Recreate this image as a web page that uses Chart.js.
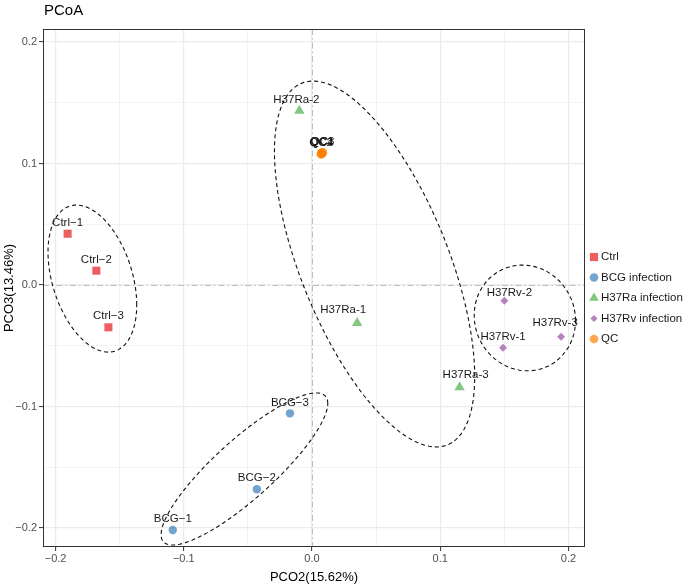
<!DOCTYPE html>
<html>
<head>
<meta charset="utf-8">
<script src="https://cdn.jsdelivr.net/npm/chart.js@4"></script>
<style>
  html, body { margin: 0; padding: 0; background: #fff; }
  #wrap { width: 685px; height: 587px; }
</style>
</head>
<body>
<div id="wrap"><canvas id="pcoa"></canvas></div>
<script>
// ----------------------------
// Data
// ----------------------------
const groups = ["Ctrl", "BCG infection", "H37Ra infection", "H37Rv infection", "QC"];

const ctrlNames = ["Ctrl−1", "Ctrl−2", "Ctrl−3"];
const ctrlX = [-0.1906, -0.1682, -0.1588];
const ctrlY = [0.0422, 0.0118, -0.0348];

const bcgNames = ["BCG−1", "BCG−2", "BCG−3"];
const bcgX = [-0.1086, -0.0430, -0.0172];
const bcgY = [-0.2016, -0.1681, -0.1056];

const raNames = ["H37Ra-1", "H37Ra-2", "H37Ra-3"];
const raX = [0.0352, -0.0099, 0.1151];
const raY = [-0.0313, 0.1435, -0.0842];

const rvNames = ["H37Rv-1", "H37Rv-2", "H37Rv-3"];
const rvX = [0.1490, 0.1500, 0.1943];
const rvY = [-0.0516, -0.0129, -0.0426];

const qcNames = ["QC1", "QC2", "QC3", "QC4"];
const qcX = [0.0078, 0.0071, 0.0083, 0.0075];
const qcY = [0.1086, 0.1078, 0.1091, 0.1081];

const xTicks = [-0.2, -0.1, 0, 0.1, 0.2];
const yTicks = [-0.2, -0.1, 0, 0.1, 0.2];
const minorTicks = [-0.15, -0.05, 0.05, 0.15];

// group ellipses: centre, half extents and correlation (data units)
const ellipseCx = [-0.1713, -0.0527, 0.0488, 0.1660];
const ellipseCy = [0.0053, -0.1514, 0.0173, -0.0271];
const ellipseSx = [0.0346, 0.0650, 0.0781, 0.0395];
const ellipseSy = [0.0605, 0.0626, 0.1506, 0.0435];
const ellipseR  = [-0.36, 0.862, -0.615, -0.05];

const FONT = "'Liberation Sans', Arial, sans-serif";

function pts(xs, ys) {
    return xs.map((x, i) => ({ x: x, y: ys[i] }));
}

function isMajor(v) {
    return Math.abs(v * 10 - Math.round(v * 10)) < 1e-6;
}

function fmt(v) {
    if (Math.abs(v) < 1e-9) return "0.0";
    return (v < 0 ? "−" : "") + Math.abs(v).toFixed(1);
}

// small label shifts, like the repelled text in the original
const labelNudge = {
    "H37Ra-1": [-14, -2],
    "H37Ra-2": [-3, 0],
    "H37Ra-3": [6, -2],
    "H37Rv-2": [5, 3],
    "H37Rv-3": [-6, -3]
};

// legend marker sizes per point style
const legendRadius = { rect: 5.8, circle: 4.3, triangle: 5.6, rectRot: 3.6 };

// ============================
// Plugins
// ============================
const panelPlugin = {
    id: "panel",
    beforeDatasetsDraw(chart) {
        const { ctx, chartArea: a, scales } = chart;
        const x0 = Math.round(scales.x.getPixelForValue(0)) + 0.5;
        const y0 = Math.round(scales.y.getPixelForValue(0)) + 0.5;
        ctx.save();
        ctx.strokeStyle = "#bdbdbd";
        ctx.lineWidth = 1;
        ctx.setLineDash([6, 3, 1.5, 3]);
        ctx.beginPath();
        ctx.moveTo(x0, a.top); ctx.lineTo(x0, a.bottom);
        ctx.moveTo(a.left, y0); ctx.lineTo(a.right, y0);
        ctx.stroke();
        ctx.restore();
    },
    afterDatasetsDraw(chart) {
        const { ctx, chartArea: a, scales } = chart;
        // ellipses
        ctx.save();
        ctx.beginPath();
        ctx.rect(a.left, a.top, a.right - a.left, a.bottom - a.top);
        ctx.clip();
        ctx.strokeStyle = "#111";
        ctx.lineWidth = 1.1;
        ctx.setLineDash([4, 3]);
        for (let k = 0; k < ellipseCx.length; k++) {
            const r = ellipseR[k], q = Math.sqrt(1 - r * r);
            ctx.beginPath();
            for (let s = 0; s <= 120; s++) {
                const t = s / 120 * Math.PI * 2;
                const vx = ellipseCx[k] + ellipseSx[k] * Math.cos(t);
                const vy = ellipseCy[k] + ellipseSy[k] * (r * Math.cos(t) + q * Math.sin(t));
                const px = scales.x.getPixelForValue(vx);
                const py = scales.y.getPixelForValue(vy);
                if (s === 0) ctx.moveTo(px, py); else ctx.lineTo(px, py);
            }
            ctx.stroke();
        }
        ctx.restore();

        // point labels
        ctx.save();
        ctx.font = "11.5px " + FONT;
        ctx.fillStyle = "#1a1a1a";
        ctx.textAlign = "center";
        ctx.textBaseline = "middle";
        chart.data.datasets.forEach((ds, di) => {
            chart.getDatasetMeta(di).data.forEach((p, i) => {
                const name = ds.names[i];
                const n = labelNudge[name] || [0, 0];
                ctx.fillText(name, p.x + n[0], p.y - 11 + n[1]);
            });
        });
        ctx.restore();
    },
    afterDraw(chart) {
        const { ctx, chartArea: a } = chart;
        ctx.save();
        // panel border
        ctx.strokeStyle = "#333";
        ctx.lineWidth = 1;
        ctx.strokeRect(Math.round(a.left) + 0.5, Math.round(a.top) + 0.5,
                       Math.round(a.right - a.left) - 1, Math.round(a.bottom - a.top) - 1);
        // title
        ctx.fillStyle = "#000";
        ctx.font = "15px " + FONT;
        ctx.textAlign = "left";
        ctx.textBaseline = "middle";
        ctx.fillText("PCoA", a.left + 1, 11);
        // legend
        const mx = a.right + 9;
        const y0 = (a.top + a.bottom) / 2 - 31;
        ctx.font = "11.5px " + FONT;
        chart.data.datasets.forEach((ds, i) => {
            const y = y0 + i * 20.5;
            ctx.fillStyle = ds.backgroundColor;
            Chart.helpers.drawPoint(ctx, {
                pointStyle: ds.pointStyle, radius: legendRadius[ds.pointStyle],
                rotation: 0, borderWidth: 0
            }, mx, y);
            ctx.fillStyle = "#1a1a1a";
            ctx.fillText(ds.label, mx + 7, y);
        });
        ctx.restore();
    }
};

// ============================
// Chart
// ============================
const gridOpts = {
    color: "#ebebeb",
    lineWidth: c => (c.tick && isMajor(c.tick.value)) ? 1.2 : 0.6,
    tickColor: c => (c.tick && isMajor(c.tick.value)) ? "#333" : "rgba(0,0,0,0)",
    tickLength: 4,
    tickWidth: 1
};

function setTicks(scale) {
    const vals = [].concat(scale.axis === "x" ? xTicks : yTicks, minorTicks).sort((a, b) => a - b);
    scale.ticks = vals.map(v => ({ value: v }));
}

new Chart(document.getElementById("pcoa"), {
    type: "scatter",
    data: {
        datasets: [{
            label: groups[0], names: ctrlNames, data: pts(ctrlX, ctrlY),
            pointStyle: "rect", pointRadius: 5.7,
            backgroundColor: "rgba(228,26,28,0.7)"
        }, {
            label: groups[1], names: bcgNames, data: pts(bcgX, bcgY),
            pointStyle: "circle", pointRadius: 4.2,
            backgroundColor: "rgba(55,126,184,0.7)"
        }, {
            label: groups[2], names: raNames, data: pts(raX, raY),
            pointStyle: "triangle", pointRadius: 6,
            backgroundColor: "rgba(77,175,74,0.7)"
        }, {
            label: groups[3], names: rvNames, data: pts(rvX, rvY),
            pointStyle: "rectRot", pointRadius: 4,
            backgroundColor: "rgba(152,78,163,0.7)"
        }, {
            label: groups[4], names: qcNames, data: pts(qcX, qcY),
            pointStyle: "circle", pointRadius: 4.6,
            backgroundColor: "rgba(255,127,0,0.7)"
        }]
    },
    options: {
        animation: false,
        responsive: true,
        maintainAspectRatio: false,
        events: [],
        elements: { point: { borderWidth: 0 } },
        layout: { padding: { top: 29, left: 0, right: 100, bottom: 0 } },
        scales: {
            x: {
                type: "linear", min: -0.2098, max: 0.2129,
                afterBuildTicks: setTicks,
                afterFit: s => { s.height = 40; },
                grid: gridOpts,
                border: { display: false },
                ticks: {
                    autoSkip: false, maxRotation: 0, padding: 1,
                    color: "#4d4d4d", font: { family: FONT, size: 11 },
                    callback: v => isMajor(v) ? fmt(v) : ""
                },
                title: {
                    display: true, text: "PCO2(15.62%)", color: "#000",
                    font: { family: FONT, size: 13 }, padding: { top: 0, bottom: 2 }
                }
            },
            y: {
                type: "linear", min: -0.2156, max: 0.2107,
                afterBuildTicks: setTicks,
                afterFit: s => { s.width = 43; },
                grid: gridOpts,
                border: { display: false },
                ticks: {
                    autoSkip: false, padding: 2,
                    color: "#4d4d4d", font: { family: FONT, size: 11 },
                    callback: v => isMajor(v) ? fmt(v) : ""
                },
                title: {
                    display: true, text: "PCO3(13.46%)", color: "#000",
                    font: { family: FONT, size: 13 }, padding: { top: 2, bottom: 0 }
                }
            }
        },
        plugins: {
            tooltip: { enabled: false },
            title: { display: false },
            legend: { display: false }
        }
    },
    plugins: [panelPlugin]
});
</script>
</body>
</html>
